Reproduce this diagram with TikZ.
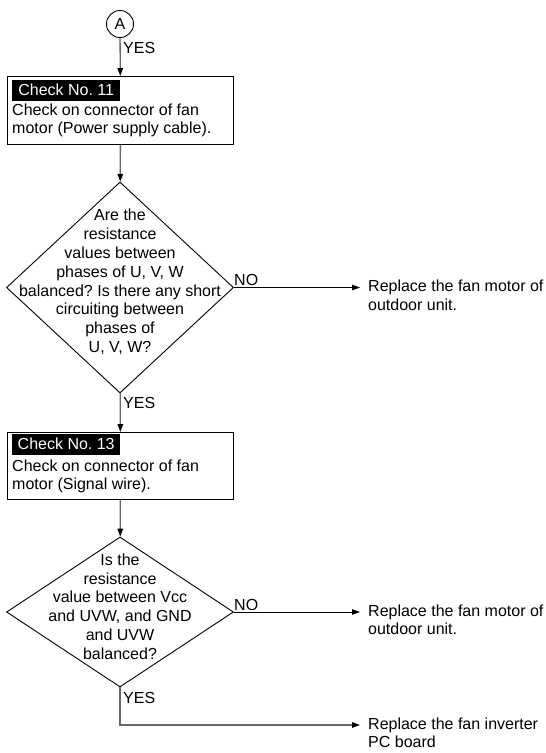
\documentclass[tikz,border=0pt]{standalone}
\usepackage{fontspec}
\setmainfont{Liberation Sans}
\usetikzlibrary{shapes.geometric,arrows.meta}
\frenchspacing
\begin{document}
\begin{tikzpicture}[x=1pt,y=-1pt,
  font=\fontsize{16pt}{18.8pt}\selectfont,
  tip/.style={-{Triangle[length=8pt,width=5.5pt,black]}},
  conn/.style={tip,draw=black!60,line width=1.3pt},
  harrow/.style={tip,draw=black,line width=0.9pt},
  boxshape/.style={draw=black,line width=0.9pt,anchor=north west,inner sep=0pt,minimum width=226pt},
  tag/.style={fill=black,text=white,anchor=north west,inner sep=0pt,minimum width=108pt,minimum height=21pt},
  txt/.style={anchor=base west,inner sep=0pt},
  rtxt/.style={inner xsep=8pt,inner ysep=0pt},
  dia/.style={diamond,draw=black,line width=0.9pt,inner sep=0pt},
  lab/.style={anchor=base west,inner sep=0pt}]
\useasboundingbox (0,0) rectangle (546,753);

% start connector
\node[circle,draw=black,line width=0.9pt,minimum size=27pt,inner sep=0pt] (A) at (120,24) {A};

% Check 11
\node[boxshape,minimum height=68pt] (b1) at (7,76) {};
\node[tag] (l1) at (12,79.5) {Check No. 11};
\node[txt] (t1a) at (12,115) {Check on connector of fan};
\node[txt] (t1b) at (12,133.5) {motor (Power supply cable).};

% Decision 1
\node[dia,minimum width=227pt,minimum height=211pt] (d1) at (120,287.5) {};
\node[align=center,inner sep=0pt] (q1) at (120,282) {Are the\\resistance\\values between\\phases of U, V, W\\balanced? Is there any short\\circuiting between\\phases of\\U, V, W?};

% Check 13
\node[boxshape,minimum height=67pt] (b2) at (7,432) {};
\node[tag] (l2) at (12,433.5) {Check No. 13};
\node[txt] (t2a) at (12,471) {Check on connector of fan};
\node[txt] (t2b) at (12,489.5) {motor (Signal wire).};

% Decision 2
\node[dia,minimum width=227pt,minimum height=150pt] (d2) at (120,612) {};
\node[align=center,inner sep=0pt] (q2) at (120,606.5) {Is the\\resistance\\value between Vcc\\and UVW, and GND\\and UVW\\balanced?};

% results
\node[rtxt,anchor=west] (r1a) at (360,287.5) {Replace the fan motor of};
\node[rtxt,anchor=base west] (r1b) at ([yshift=-18.8pt]r1a.base west) {outdoor unit.};
\node[rtxt,anchor=west] (r2a) at (360,612) {Replace the fan motor of};
\node[rtxt,anchor=base west] (r2b) at ([yshift=-18.8pt]r2a.base west) {outdoor unit.};
\node[rtxt,anchor=west] (r3a) at (360,725) {Replace the fan inverter};
\node[rtxt,anchor=base west] (r3b) at ([yshift=-18.8pt]r3a.base west) {PC board};

% labels
\node[lab] (y0) at (123,53) {YES};
\node[lab] (n1) at (234,285) {NO};
\node[lab] (y1) at (123,408) {YES};
\node[lab] (n2) at (234,610) {NO};
\node[lab] (y2) at (123,703) {YES};

% connectors
\draw[conn] (A) -- (b1);
\draw[conn] (b1) -- (d1);
\draw[conn] (d1) -- (b2);
\draw[conn] (b2) -- (d2);
\draw[harrow] (d1.east) -- (d1.east -| r1a.west);
\draw[harrow] (d2.east) -- (d2.east -| r2a.west);
\draw[conn] (d2.south) |- (r3a.west);
\end{tikzpicture}
\end{document}
